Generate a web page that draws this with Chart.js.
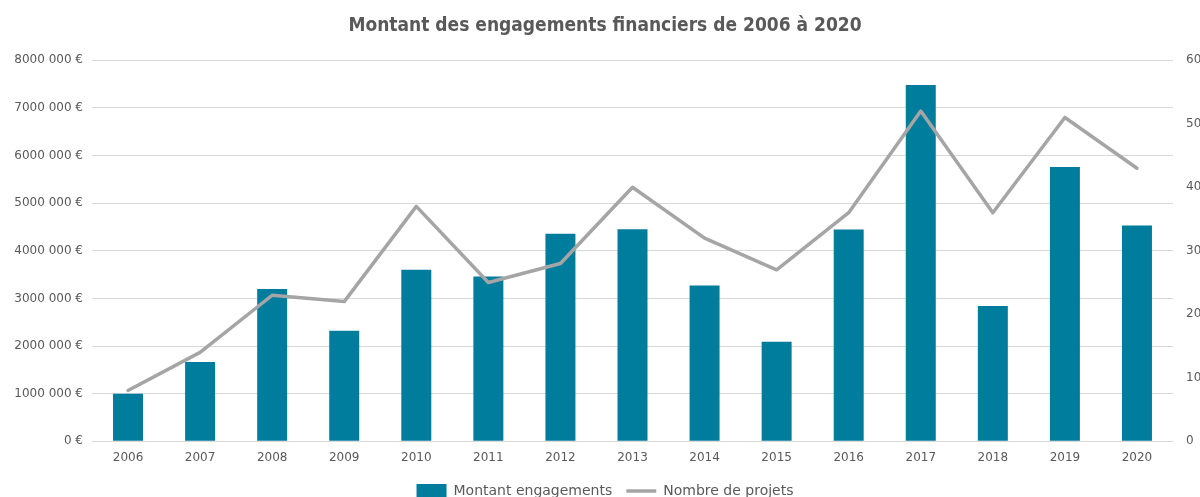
<!DOCTYPE html>
<html>
<head>
<meta charset="utf-8">
<script src="https://cdn.jsdelivr.net/npm/chart.js@4"></script>
<style>
html,body{margin:0;padding:0;background:#fff;overflow:hidden;width:1200px;height:497px;}
#wrap{width:1210px;height:508px;}
</style>
</head>
<body>
<div id="wrap"><canvas id="c" width="1210" height="508"></canvas></div>
<script>
const years = ['2006','2007','2008','2009','2010','2011','2012','2013','2014','2015','2016','2017','2018','2019','2020'];
const montants = [1000000,1665000,3200000,2320000,3600000,3460000,4360000,4450000,3270000,2090000,4445000,7480000,2840000,5760000,4530000];
const projets = [8,14,23,22,37,25,28,40,32,27,36,52,36,51,43];
const leftTickLabels = ['0 €','1000 000 €','2000 000 €','3000 000 €','4000 000 €','5000 000 €','6000 000 €','7000 000 €','8000 000 €'];
const rightTickLabels = ['0','10','20','30','40','50','60'];
const titleText = 'Montant des engagements financiers de 2006 à 2020';
const seriesNames = ['Montant engagements','Nombre de projets'];

const TXT = '#595959';
const tickFont = {family:'DejaVu Sans', size:12};

new Chart(document.getElementById('c'), {
  data: {
    labels: years,
    datasets: [
      {type:'bar', label:seriesNames[0], data:montants, yAxisID:'y',
       backgroundColor:'#007C9C', borderColor:'#007C9C', borderWidth:0,
       barPercentage:0.416, categoryPercentage:1, order:1, pointStyle:'rect'},
      {type:'line', label:seriesNames[1], data:projets, yAxisID:'y2',
       borderColor:'#A5A5A5', backgroundColor:'#A5A5A5', borderWidth:3.5,
       pointRadius:0, tension:0, borderJoinStyle:'round', borderCapStyle:'round', order:0, pointStyle:'line'}
    ]
  },
  options: {
    responsive:false,
    animation:false,
    devicePixelRatio:1,
    layout:{padding:{left:0,right:0,top:0,bottom:0}},
    plugins:{
      title:{display:true, text:titleText, color:TXT,
             font:{family:"'DejaVu Sans Condensed', 'Roboto Condensed', 'Liberation Sans Narrow', sans-serif", size:19, weight:'bold'},
             padding:{top:15,bottom:22.5}},
      legend:{position:'bottom',
        labels:{color:TXT, font:{family:'DejaVu Sans', size:14},
          usePointStyle:true, pointStyleWidth:30, boxHeight:14, padding:14,
          sort:(a,b)=>a.datasetIndex-b.datasetIndex}},
      tooltip:{enabled:false}
    },
    scales:{
      x:{grid:{display:false}, border:{display:false},
         ticks:{color:TXT, font:tickFont, padding:1.5},
         afterFit:(s)=>{s.height=28.7;}},
      y:{position:'left', min:0, max:8000000,
         grid:{color:'#D9D9D9', drawTicks:false, lineWidth:1}, border:{display:false},
         ticks:{stepSize:1000000, color:TXT, font:tickFont, padding:9,
                callback:(v,i)=>leftTickLabels[i]},
         afterFit:(s)=>{s.width=92;}},
      y2:{position:'right', min:0, max:60,
         grid:{display:false, drawTicks:false}, border:{display:false},
         ticks:{stepSize:10, color:TXT, font:tickFont, padding:13,
                callback:(v,i)=>rightTickLabels[i]},
         afterFit:(s)=>{s.width=37;}}
    }
  }
});
</script>
</body>
</html>
